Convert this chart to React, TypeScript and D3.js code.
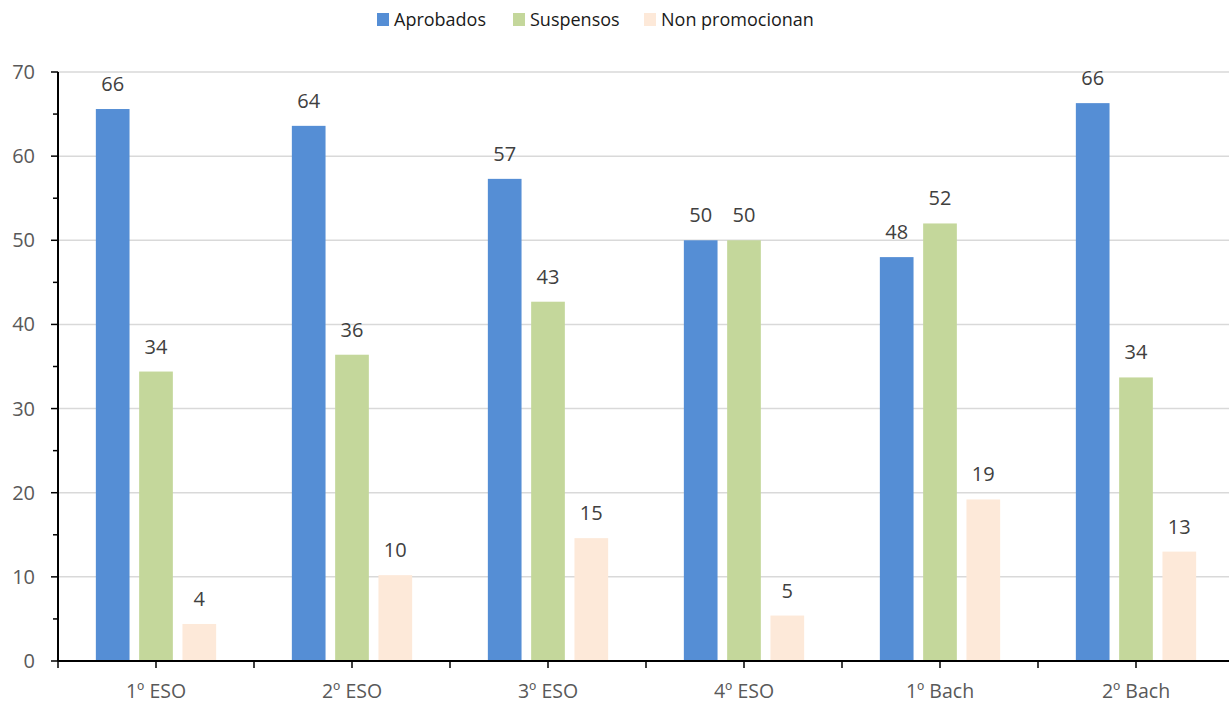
import * as d3 from "d3";
import React from "react";

const WIDTH = 1229;
const HEIGHT = 704;
const MARGIN = { top: 72, right: -5, bottom: 43, left: 58 };

const categories = ["1º ESO", "2º ESO", "3º ESO", "4º ESO", "1º Bach", "2º Bach"];
const series = ["Aprobados", "Suspensos", "Non promocionan"];
const aprobados = [65.6, 63.6, 57.3, 50.0, 48.0, 66.3];
const suspensos = [34.4, 36.4, 42.7, 50.0, 52.0, 33.7];
const nonPromocionan = [4.4, 10.2, 14.6, 5.4, 19.2, 13.0];
const yTicks = [0, 10, 20, 30, 40, 50, 60, 70];
const colors = ["#558ed5", "#c4d79b", "#fde9d9"];

const FONT = "'Open Sans', 'Noto Sans', sans-serif";

const App: React.FC = () => {
    const values = [aprobados, suspensos, nonPromocionan];
    const boundsWidth = WIDTH - MARGIN.left - MARGIN.right;
    const boundsHeight = HEIGHT - MARGIN.top - MARGIN.bottom;

    const x0 = d3.scaleBand().domain(categories).range([0, boundsWidth]).padding(0);
    const x1 = d3
        .scaleBand()
        .domain(series)
        .range([0, x0.bandwidth()])
        .paddingInner(0.222)
        .paddingOuter(0.874);
    const y = d3.scaleLinear().domain([0, 70]).range([boundsHeight, 0]);
    const minorTicks = d3.range(5, 70, 10);

    // legend x positions of the swatches
    const legendX = [377, 513, 644];

    return (
        <svg
            width={WIDTH}
            height={HEIGHT}
            style={{ position: "absolute", left: 0, top: 0 }}
            fontFamily={FONT}
        >
            <rect width={WIDTH} height={HEIGHT} fill="#ffffff" />
            {/* legend */}
            <g>
                {series.map((s, i) => (
                    <g key={s} transform={`translate(${legendX[i]},13)`}>
                        <rect width={12} height={13} fill={colors[i]} />
                        <text x={17} y={13} fontSize={18} fill="#1a1a1a">
                            {s}
                        </text>
                    </g>
                ))}
            </g>
            <g transform={`translate(${MARGIN.left},${MARGIN.top})`}>
                {/* grid */}
                {yTicks
                    .filter((t) => t > 0)
                    .map((t) => (
                        <line
                            key={t}
                            x1={0}
                            x2={boundsWidth}
                            y1={y(t)}
                            y2={y(t)}
                            stroke="#d9d9d9"
                            strokeWidth={1.5}
                        />
                    ))}
                {/* bars */}
                {categories.map((c, ci) => (
                    <g key={c} transform={`translate(${x0(c)},0)`}>
                        {series.map((s, si) => {
                            const v = values[si][ci];
                            const bx = x1(s) || 0;
                            return (
                                <g key={s}>
                                    <rect
                                        x={bx}
                                        y={y(v)}
                                        width={x1.bandwidth()}
                                        height={boundsHeight - y(v)}
                                        fill={colors[si]}
                                    />
                                    <text
                                        x={bx + x1.bandwidth() / 2}
                                        y={y(v) - 18}
                                        textAnchor="middle"
                                        fontSize={20}
                                        fill="#404040"
                                    >
                                        {Math.round(v)}
                                    </text>
                                </g>
                            );
                        })}
                    </g>
                ))}
                {/* y axis */}
                <line x1={0} x2={0} y1={0} y2={boundsHeight} stroke="#000" strokeWidth={2} />
                {yTicks.map((t) => (
                    <g key={t} transform={`translate(0,${y(t)})`}>
                        <line x1={-7} x2={0} stroke="#000" strokeWidth={1.5} />
                        <text
                            x={-23}
                            dy="0.35em"
                            textAnchor="end"
                            fontSize={20}
                            fill="#595959"
                        >
                            {t}
                        </text>
                    </g>
                ))}
                {minorTicks.map((t) => (
                    <line
                        key={t}
                        x1={-5}
                        x2={0}
                        y1={y(t)}
                        y2={y(t)}
                        stroke="#000"
                        strokeWidth={1.5}
                    />
                ))}
                {/* x axis */}
                <line
                    x1={0}
                    x2={boundsWidth}
                    y1={boundsHeight}
                    y2={boundsHeight}
                    stroke="#000"
                    strokeWidth={2}
                />
                {categories.map((c) => {
                    const left = x0(c) || 0;
                    const mid = left + x0.bandwidth() / 2;
                    return (
                        <g key={c}>
                            <line
                                x1={left}
                                x2={left}
                                y1={boundsHeight}
                                y2={boundsHeight + 7}
                                stroke="#000"
                                strokeWidth={1.5}
                            />
                            <line
                                x1={mid}
                                x2={mid}
                                y1={boundsHeight}
                                y2={boundsHeight + 7}
                                stroke="#000"
                                strokeWidth={1.5}
                            />
                            <text
                                x={mid}
                                y={boundsHeight + 37}
                                textAnchor="middle"
                                fontSize={19.5}
                                fill="#595959"
                            >
                                {c}
                            </text>
                        </g>
                    );
                })}
            </g>
        </svg>
    );
};

export default App;
